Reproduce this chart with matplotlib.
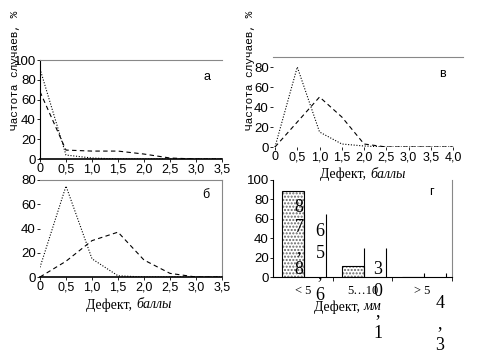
import numpy as np
import matplotlib.pyplot as plt

W, H = 478, 353

# panel а
x_a = [0, 0.5, 1.0, 1.5, 2.0, 2.5, 3.0, 3.5]
a_dot = [91, 4, 1, 0, 0, 0, 0, 0]
a_dash = [68, 9, 8, 8, 5, 1, 0, 0]

# panel в
x_v = [0, 0.5, 1.0, 1.5, 2.0, 2.5, 3.0, 3.5, 4.0]
v_dot = [0, 80, 15, 3, 1, 0, 0, 0, 0]
v_dash = [0, 25, 50, 30, 3, 0, 0, 0, 0]

# panel б
x_b = [0, 0.5, 1.0, 1.5, 2.0, 2.5, 3.0, 3.5]
b_dot = [8, 75, 15, 1, 0, 0, 0, 0]
b_dash = [0, 13, 30, 37, 14, 3, 0, 0]

# panel г
cats = ['< 5', '5\u202610', '> 5']
g_fill = [89, 11, 0]
g_open = [65, 30, 4]
g_labels = ['87,8', '65,6', '30,1', '4,3']

ticks_35 = [0, 0.5, 1.0, 1.5, 2.0, 2.5, 3.0, 3.5]
ticks_40 = ticks_35 + [4.0]

SANS = 'Liberation Sans'
SERIF = 'Liberation Serif'
MONO = 'Liberation Mono'
GRAY = '#888888'

plt.rcParams['hatch.linewidth'] = 1.0
fig = plt.figure(figsize=(W / 100, H / 100), dpi=100)


def px_axes(l, t, r, b):
    return fig.add_axes([l / W, 1 - b / H, (r - l) / W, (b - t) / H])


def fmt(v):
    return ('%.1f' % v).replace('.', ',') if v != 0 else '0'


def style(ax, xt, yt):
    ax.set_xticks(xt)
    ax.set_xticklabels([fmt(v) for v in xt], fontfamily=SANS, fontsize=9)
    ax.set_yticks(yt)
    ax.set_yticklabels([str(v) for v in yt], fontfamily=SANS, fontsize=9.5)
    ax.tick_params(length=2, width=0.6, pad=1)


dot = dict(color='black', lw=0.8, ls=(0, (1, 1.5)))
dash = dict(color='black', lw=0.8, ls=(0, (4, 3)))

# а
ax = px_axes(40, 60, 222, 159)
ax.plot(x_a, a_dot, **dot)
ax.plot(x_a, a_dash, **dash)
ax.set_xlim(0, 3.5)
ax.set_ylim(0, 100)
style(ax, ticks_35, [0, 20, 40, 60, 80, 100])
ax.spines['right'].set_visible(False)
ax.spines['top'].set_color(GRAY)
ax.spines['left'].set_linewidth(0.8)
ax.spines['bottom'].set_linewidth(1.2)
ax.text(3.15, 80, 'а', fontfamily=SANS, fontsize=9)

# в
ax = px_axes(273, 57, 463, 147)
ax.plot(x_v, v_dot, **dot)
ax.plot(x_v, v_dash, **dash)
ax.set_xlim(-0.045, 4.22)
ax.set_ylim(0, 90)
style(ax, ticks_40, [0, 20, 40, 60, 80])
for s in ['left', 'right', 'bottom']:
    ax.spines[s].set_visible(False)
ax.spines['top'].set_color(GRAY)
ax.text(3.68, 70, 'в', fontfamily=SANS, fontsize=9)

# б
ax = px_axes(40, 180, 222, 277)
ax.plot(x_b, b_dot, **dot)
ax.plot(x_b, b_dash, **dash)
ax.set_xlim(0, 3.5)
ax.set_ylim(0, 80)
style(ax, ticks_35, [0, 20, 40, 60, 80])
ax.spines['left'].set_visible(False)
ax.spines['top'].set_color(GRAY)
ax.spines['right'].set_color(GRAY)
ax.spines['bottom'].set_linewidth(1.2)
ax.text(3.12, 65, 'б', fontfamily=SANS, fontsize=9)

# г
ax = px_axes(273, 180, 452, 277)
pos = np.arange(len(cats))
wd = 0.37
# stipple first, then a black outline on top
ax.bar(pos - 0.16, g_fill, wd, color='white', edgecolor='#666666', lw=0,
       hatch='.....')
ax.bar(pos - 0.16, g_fill, wd, color='none', edgecolor='black', lw=0.8)
ax.vlines(pos + 0.21 - wd / 2, 0, g_open, color='black', lw=0.8)
ax.vlines(pos + 0.21 + wd / 2, 0, g_open, color='black', lw=0.8)
ax.set_xlim(-0.5, 2.5)
ax.set_ylim(0, 100)
ax.set_xticks(pos)
ax.set_xticklabels(cats, fontfamily=SERIF, fontsize=9)
ax.set_xticks([0.5, 1.5, 2.5], minor=True)
ax.set_yticks([0, 20, 40, 60, 80, 100])
ax.set_yticklabels(['0', '20', '40', '60', '80', '100'], fontfamily=SANS,
                   fontsize=9.5)
ax.tick_params(axis='x', which='major', length=0, pad=6)
ax.tick_params(axis='x', which='minor', length=3, width=0.6)
ax.tick_params(axis='y', length=2, width=0.6, pad=1)
ax.spines['top'].set_visible(False)
ax.spines['right'].set_color(GRAY)
ax.text(2.12, 85, 'г', fontfamily=SANS, fontsize=9)

# stray vertical value labels
lab_xy = [(299, 207), (320, 232), (378, 270), (440, 303)]
for (lx, ly), s in zip(lab_xy, g_labels):
    for i, ch in enumerate(s):
        fig.text(lx / W, 1 - (ly + i * 21) / H, ch, fontfamily=SERIF,
                 fontsize=13, ha='center', va='center')

# axis titles
for yx in (15, 250):
    fig.text(yx / W, 1 - 70 / H, 'Частота случаев, %', rotation=90,
             fontfamily=MONO, fontsize=8, ha='center', va='center')


def xlab(x, y, word, unit):
    fig.text(x / W, 1 - y / H, word + ', ', fontfamily=SERIF, fontsize=10,
             ha='right', va='center')
    fig.text(x / W, 1 - y / H, unit, fontfamily=SERIF, fontsize=10,
             style='italic', ha='left', va='center')


xlab(370, 174, 'Дефект', 'баллы')
xlab(136, 305, 'Дефект', 'баллы')
xlab(363, 307, 'Дефект', 'мм')

fig.savefig('out.png', dpi=100)
